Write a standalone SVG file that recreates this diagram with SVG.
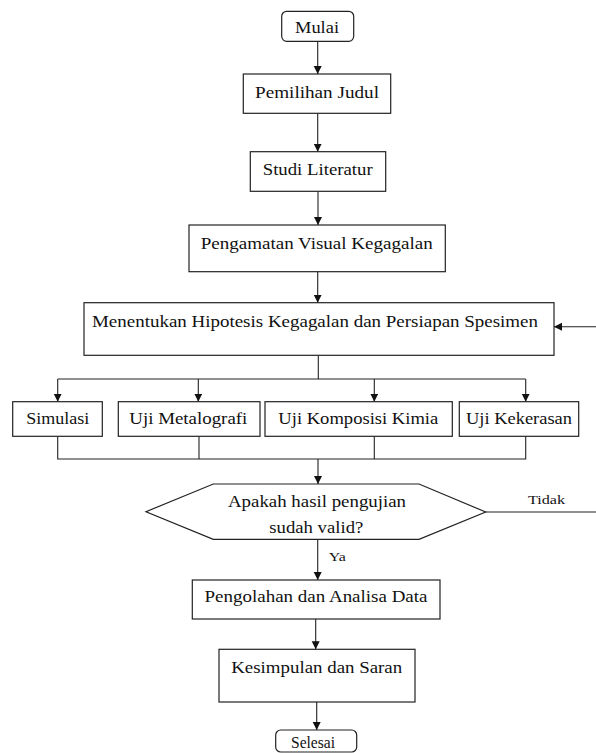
<svg xmlns="http://www.w3.org/2000/svg" width="596" height="753" viewBox="0 0 596 753" font-family="'Liberation Serif', 'Times New Roman', Times, serif">
<style>
.b{fill:#fff;stroke:#222;stroke-width:1.2}
.t{font-size:17px;fill:#111;text-anchor:middle}
.s{font-size:12.5px;fill:#111;text-anchor:middle}
.c{fill:none;stroke:#222;stroke-width:1.1}
</style>
<defs>
<marker id="ah" markerUnits="userSpaceOnUse" markerWidth="9" markerHeight="9" refX="8" refY="4" orient="auto">
<path d="M0,0 L8,4 L0,8 z" fill="#111"/>
</marker>
</defs>
<rect width="596" height="753" fill="#fff"/>
<g id="connectors">
<line class="c" x1="317.7" y1="41.3" x2="317.7" y2="74" marker-end="url(#ah)"/>
<line class="c" x1="317.7" y1="113.3" x2="317.7" y2="151.7" marker-end="url(#ah)"/>
<line class="c" x1="318" y1="191.3" x2="318" y2="225" marker-end="url(#ah)"/>
<line class="c" x1="317.7" y1="271.7" x2="317.7" y2="302.7" marker-end="url(#ah)"/>
<polyline class="c" points="318.3,355.3 318.3,379"/>
<polyline class="c" points="57.7,379 525.7,379"/>
<line class="c" x1="57.7" y1="379" x2="57.7" y2="401.7" marker-end="url(#ah)"/>
<line class="c" x1="198.3" y1="379" x2="198.3" y2="401.7" marker-end="url(#ah)"/>
<line class="c" x1="374.3" y1="379" x2="374.3" y2="401.7" marker-end="url(#ah)"/>
<line class="c" x1="525.7" y1="379" x2="525.7" y2="401.7" marker-end="url(#ah)"/>
<polyline class="c" points="57.7,436.3 57.7,459 525.7,459 525.7,436.3"/>
<line class="c" x1="199" y1="436.3" x2="199" y2="459"/>
<line class="c" x1="374.3" y1="436.3" x2="374.3" y2="459"/>
<line class="c" x1="318" y1="459" x2="318" y2="484" marker-end="url(#ah)"/>
<line class="c" x1="317.7" y1="539.3" x2="317.7" y2="580" marker-end="url(#ah)"/>
<line class="c" x1="315.7" y1="619" x2="315.7" y2="649.3" marker-end="url(#ah)"/>
<line class="c" x1="316.7" y1="702" x2="316.7" y2="730" marker-end="url(#ah)"/>
<line class="c" x1="485.7" y1="512" x2="596" y2="512"/>
<line class="c" x1="596" y1="326.7" x2="554" y2="326.7" marker-end="url(#ah)"/>
<text class="s" x="546.5" y="504" textLength="37" lengthAdjust="spacingAndGlyphs">Tidak</text>
<text class="s" x="337.3" y="561" textLength="17" lengthAdjust="spacingAndGlyphs">Ya</text>
</g>
<g id="mulai">
<rect class="b" x="281.7" y="11.3" width="72" height="30" rx="5"/>
<text class="t" x="317" y="33.3" textLength="44" lengthAdjust="spacingAndGlyphs">Mulai</text>
</g>
<g id="pemilihan">
<rect class="b" x="243.3" y="74" width="147.4" height="39.3"/>
<text class="t" x="317" y="98.3" textLength="124" lengthAdjust="spacingAndGlyphs">Pemilihan Judul</text>
</g>
<g id="studi">
<rect class="b" x="250.3" y="151.7" width="135.4" height="39.6"/>
<text class="t" x="317.7" y="175" textLength="110" lengthAdjust="spacingAndGlyphs">Studi Literatur</text>
</g>
<g id="pengamatan">
<rect class="b" x="189" y="225" width="256.3" height="46.7"/>
<text class="t" x="316.7" y="249.3" textLength="232" lengthAdjust="spacingAndGlyphs">Pengamatan Visual Kegagalan</text>
</g>
<g id="menentukan">
<rect class="b" x="84" y="302.7" width="470" height="52.6"/>
<text class="t" x="315" y="327.3" textLength="446" lengthAdjust="spacingAndGlyphs">Menentukan Hipotesis Kegagalan dan Persiapan Spesimen</text>
</g>
<g id="simulasi">
<rect class="b" x="12.7" y="401.7" width="89.6" height="34.6"/>
<text class="t" x="57.7" y="424.3" textLength="63" lengthAdjust="spacingAndGlyphs">Simulasi</text>
</g>
<g id="metalografi">
<rect class="b" x="118.3" y="401.7" width="141.7" height="34.6"/>
<text class="t" x="188.3" y="424.3" textLength="118" lengthAdjust="spacingAndGlyphs">Uji Metalografi</text>
</g>
<g id="komposisi">
<rect class="b" x="265" y="401.7" width="187.3" height="34.6"/>
<text class="t" x="358.3" y="424.3" textLength="160" lengthAdjust="spacingAndGlyphs">Uji Komposisi Kimia</text>
</g>
<g id="kekerasan">
<rect class="b" x="459.3" y="401.7" width="119.4" height="34.6"/>
<text class="t" x="519" y="424.3" textLength="106" lengthAdjust="spacingAndGlyphs">Uji Kekerasan</text>
</g>
<g id="keputusan">
<polygon class="b" points="213.3,484 419,484 485.7,512 419,539.3 213.3,539.3 146,511.7"/>
<text class="t" x="317" y="506.5" textLength="178" lengthAdjust="spacingAndGlyphs">Apakah hasil pengujian</text>
<text class="t" x="316.3" y="533" textLength="94" lengthAdjust="spacingAndGlyphs">sudah valid?</text>
</g>
<g id="pengolahan">
<rect class="b" x="192.3" y="580" width="247.7" height="39"/>
<text class="t" x="316" y="601.7" textLength="223" lengthAdjust="spacingAndGlyphs">Pengolahan dan Analisa Data</text>
</g>
<g id="kesimpulan">
<rect class="b" x="219" y="649.3" width="196" height="52.7"/>
<text class="t" x="316.7" y="672.7" textLength="171" lengthAdjust="spacingAndGlyphs">Kesimpulan dan Saran</text>
</g>
<g id="selesai">
<rect class="b" x="275.7" y="730" width="81" height="22" rx="5"/>
<text class="t" x="313" y="747.5" textLength="44" lengthAdjust="spacingAndGlyphs">Selesai</text>
</g>
</svg>
